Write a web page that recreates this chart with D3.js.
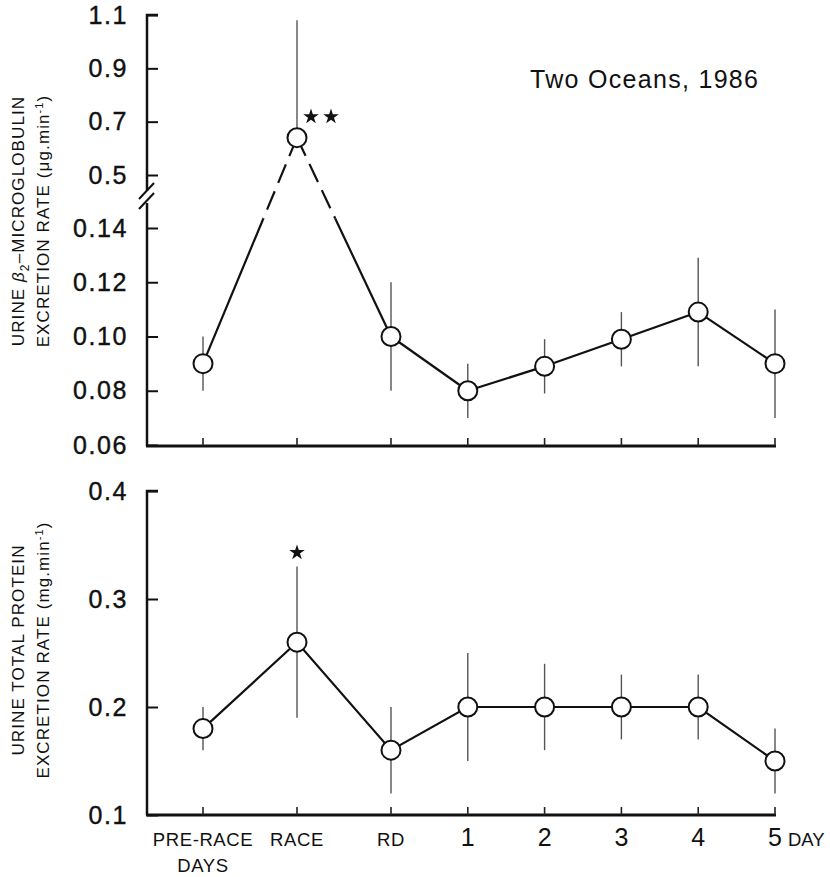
<!DOCTYPE html>
<html>
<head>
<meta charset="utf-8">
<script src="https://cdn.jsdelivr.net/npm/d3@7"></script>
<style>
  body { margin: 0; background: #fff; }
  svg { display: block; font-family: "Liberation Sans", Arial, Helvetica, sans-serif; }
  text { fill: #111; }
</style>
</head>
<body>
<div id="chart"></div>
<script>
// categories along the x axis (second line of a label after "\n")
const categories = ["PRE-RACE\nDAYS", "RACE", "RD", "1", "2", "3", "4", "5"];

// top panel: urine beta2-microglobulin excretion rate (ug/min), mean and SD
const b2Mean = [0.09, 0.64, 0.10, 0.08, 0.089, 0.099, 0.109, 0.09];
const b2Sd   = [0.01, 0.44, 0.02, 0.01, 0.01, 0.01, 0.02, 0.02];
const b2Sig  = ["", "**", "", "", "", "", "", ""];
const b2TicksUpper = [0.5, 0.7, 0.9, 1.1];
const b2TicksLower = [0.06, 0.08, 0.10, 0.12, 0.14];

// bottom panel: urine total protein excretion rate (mg/min), mean and SD
const protMean = [0.18, 0.26, 0.16, 0.20, 0.20, 0.20, 0.20, 0.15];
const protSd   = [0.02, 0.07, 0.04, 0.05, 0.04, 0.03, 0.03, 0.03];
const protSig  = ["", "*", "", "", "", "", "", ""];
const protTicks = [0.1, 0.2, 0.3, 0.4];

const W = 830, H = 877;
const axisX = 147;

const svg = d3.select("#chart").append("svg")
  .attr("width", W).attr("height", H);

// x: category index -> pixel (race period is spaced wider than the day steps)
const x = d3.scaleLinear().domain([0, 2, 7]).range([203, 391, 775]);
const xEnd = x(categories.length - 1);

// top panel has a broken y axis
const yUp = d3.scaleLinear().domain([0.5, 1.1]).range([175, 15]);
const yLow = d3.scaleLinear().domain([0.06, 0.14]).range([445, 228]);
const yTop = v => v >= 0.5 ? yUp(v) : yLow(v);
const sameSeg = (a, b) => (a >= 0.5) === (b >= 0.5);

const yBot = d3.scaleLinear().domain([0.1, 0.4]).range([815, 491]);

function yAxis(scale, ticks, fmt) {
  const g = svg.append("g")
    .attr("transform", `translate(${axisX},0)`)
    .call(d3.axisLeft(scale).tickValues(ticks).tickFormat(d3.format(fmt))
      .tickSizeInner(-11).tickSizeOuter(0).tickPadding(19));
  g.select(".domain").remove();
  g.selectAll(".tick line").attr("stroke", "#111").attr("stroke-width", 2);
  g.selectAll(".tick text")
    .attr("font-size", 25).attr("letter-spacing", 1.6)
    .attr("font-family", "'Liberation Sans', Arial, sans-serif")
    .attr("fill", "#111").attr("stroke", "#111").attr("stroke-width", 0.4);
  return g;
}

function xAxisLine(y0) {
  svg.append("line")
    .attr("x1", axisX - 1).attr("x2", xEnd + 1)
    .attr("y1", y0).attr("y2", y0)
    .attr("stroke", "#111").attr("stroke-width", 3);
  svg.append("g").selectAll("line")
    .data(categories)
    .join("line")
    .attr("x1", (d, i) => x(i)).attr("x2", (d, i) => x(i))
    .attr("y1", y0).attr("y2", y0 - 8)
    .attr("stroke", "#222").attr("stroke-width", 1.6);
}

function yTitle(lines, cy) {
  const g = svg.append("g");
  [24, 49].forEach((bx, k) => {
    g.append("text")
      .attr("transform", `translate(${bx},${cy}) rotate(-90)`)
      .attr("text-anchor", "middle")
      .attr("font-size", 17).attr("letter-spacing", 1.1)
      .html(lines[k]);
  });
}

function errorBars(g, means, sds, yf, keep) {
  means.forEach((m, i) => {
    const hi = m + sds[i], lo = m - sds[i];
    g.append("line")
      .attr("x1", x(i)).attr("x2", x(i))
      .attr("y1", yf(m)).attr("y2", yf(hi))
      .attr("stroke", "#555").attr("stroke-width", 1.4);
    if (keep(m, lo)) {
      g.append("line")
        .attr("x1", x(i)).attr("x2", x(i))
        .attr("y1", yf(m)).attr("y2", yf(lo))
        .attr("stroke", "#555").attr("stroke-width", 1.4);
    }
  });
}

function points(g, means, yf) {
  g.selectAll("circle.pt")
    .data(means)
    .join("circle")
    .attr("class", "pt")
    .attr("cx", (d, i) => x(i)).attr("cy", d => yf(d))
    .attr("r", 9.5)
    .attr("fill", "#fff").attr("stroke", "#111").attr("stroke-width", 2);
}

const star = d3.symbol().type(d3.symbolStar).size(75);

// ---------------- top panel ----------------
const topG = svg.append("g");
const breakY = 197;
topG.append("path")
  .attr("d", `M${axisX + 11},15H${axisX}V${breakY - 6}M${axisX},${breakY + 6}V446`)
  .attr("fill", "none").attr("stroke", "#111").attr("stroke-width", 2.5);
[-5, 5].forEach(o => {
  topG.append("line")
    .attr("x1", axisX - 8).attr("y1", breakY + o + 7)
    .attr("x2", axisX + 7).attr("y2", breakY + o - 9)
    .attr("stroke", "#111").attr("stroke-width", 2);
});
yAxis(yUp, b2TicksUpper, ".1f");
yAxis(yLow, b2TicksLower, ".2f");
xAxisLine(446);

errorBars(topG, b2Mean, b2Sd, yTop, sameSeg);

// connecting line: solid inside a scale segment, dashed where it crosses the break
const dashY = yLow(0.1435);
const pts = b2Mean.map((m, i) => [x(i), yTop(m)]);
for (let i = 0; i < pts.length - 1; i++) {
  const a = pts[i], b = pts[i + 1];
  if (sameSeg(b2Mean[i], b2Mean[i + 1])) {
    topG.append("line")
      .attr("x1", a[0]).attr("y1", a[1]).attr("x2", b[0]).attr("y2", b[1])
      .attr("stroke", "#111").attr("stroke-width", 2.2);
  } else {
    const [lo, hi] = b2Mean[i] < 0.5 ? [a, b] : [b, a];
    const t = (lo[1] - dashY) / (lo[1] - hi[1]);
    const mid = [lo[0] + (hi[0] - lo[0]) * t, dashY];
    topG.append("line")
      .attr("x1", lo[0]).attr("y1", lo[1]).attr("x2", mid[0]).attr("y2", mid[1])
      .attr("stroke", "#111").attr("stroke-width", 2.2);
    topG.append("line")
      .attr("x1", hi[0]).attr("y1", hi[1]).attr("x2", mid[0]).attr("y2", mid[1])
      .attr("stroke", "#111").attr("stroke-width", 2.2)
      .attr("stroke-dasharray", "20,9");
  }
}
points(topG, b2Mean, yTop);

b2Sig.forEach((s, i) => {
  for (let k = 0; k < s.length; k++) {
    topG.append("path").attr("d", star)
      .attr("transform", `translate(${x(i) + 14 + k * 20},${yTop(b2Mean[i]) - 21})`)
      .attr("fill", "#111");
  }
});

topG.append("text")
  .attr("x", 530).attr("y", 88)
  .attr("font-size", 25).attr("letter-spacing", 1.3)
  .text("Two Oceans, 1986");

yTitle([
  "URINE <tspan font-style='italic'>β</tspan><tspan dy='5' font-size='12'>2</tspan><tspan dy='-5'>–MICROGLOBULIN</tspan>",
  "EXCRETION RATE (μg.min<tspan dy='-6' font-size='11'>-1</tspan><tspan dy='6'>)</tspan>"
], 221);

// ---------------- bottom panel ----------------
const botG = svg.append("g");
botG.append("path")
  .attr("d", `M${axisX + 11},491H${axisX}V815`)
  .attr("fill", "none").attr("stroke", "#111").attr("stroke-width", 2.5);
yAxis(yBot, protTicks, ".1f");
xAxisLine(815);

errorBars(botG, protMean, protSd, yBot, () => true);
botG.append("path")
  .datum(protMean)
  .attr("d", d3.line().x((d, i) => x(i)).y(d => yBot(d)))
  .attr("fill", "none").attr("stroke", "#111").attr("stroke-width", 2.2);
points(botG, protMean, yBot);

protSig.forEach((s, i) => {
  for (let k = 0; k < s.length; k++) {
    botG.append("path").attr("d", star)
      .attr("transform", `translate(${x(i) + k * 20},${yBot(protMean[i] + protSd[i]) - 14})`)
      .attr("fill", "#111");
  }
});

yTitle([
  "URINE TOTAL PROTEIN",
  "EXCRETION RATE (mg.min<tspan dy='-6' font-size='11'>-1</tspan><tspan dy='6'>)</tspan>"
], 650);

// x labels
const xl = svg.append("g");
categories.forEach((c, i) => {
  const parts = c.split("\n");
  const isNum = /^\d+$/.test(parts[0]);
  const t = xl.append("text")
    .attr("x", x(i)).attr("y", 846)
    .attr("text-anchor", "middle")
    .attr("font-size", isNum ? 25 : 18.5)
    .attr("letter-spacing", isNum ? 0 : 0.6);
  parts.forEach((p, k) => {
    t.append("tspan").attr("x", x(i)).attr("dy", k === 0 ? 0 : 26).text(p);
  });
});
xl.append("text")
  .attr("x", xEnd + 13).attr("y", 846)
  .attr("font-size", 18.5)
  .text("DAY");
</script>
</body>
</html>
